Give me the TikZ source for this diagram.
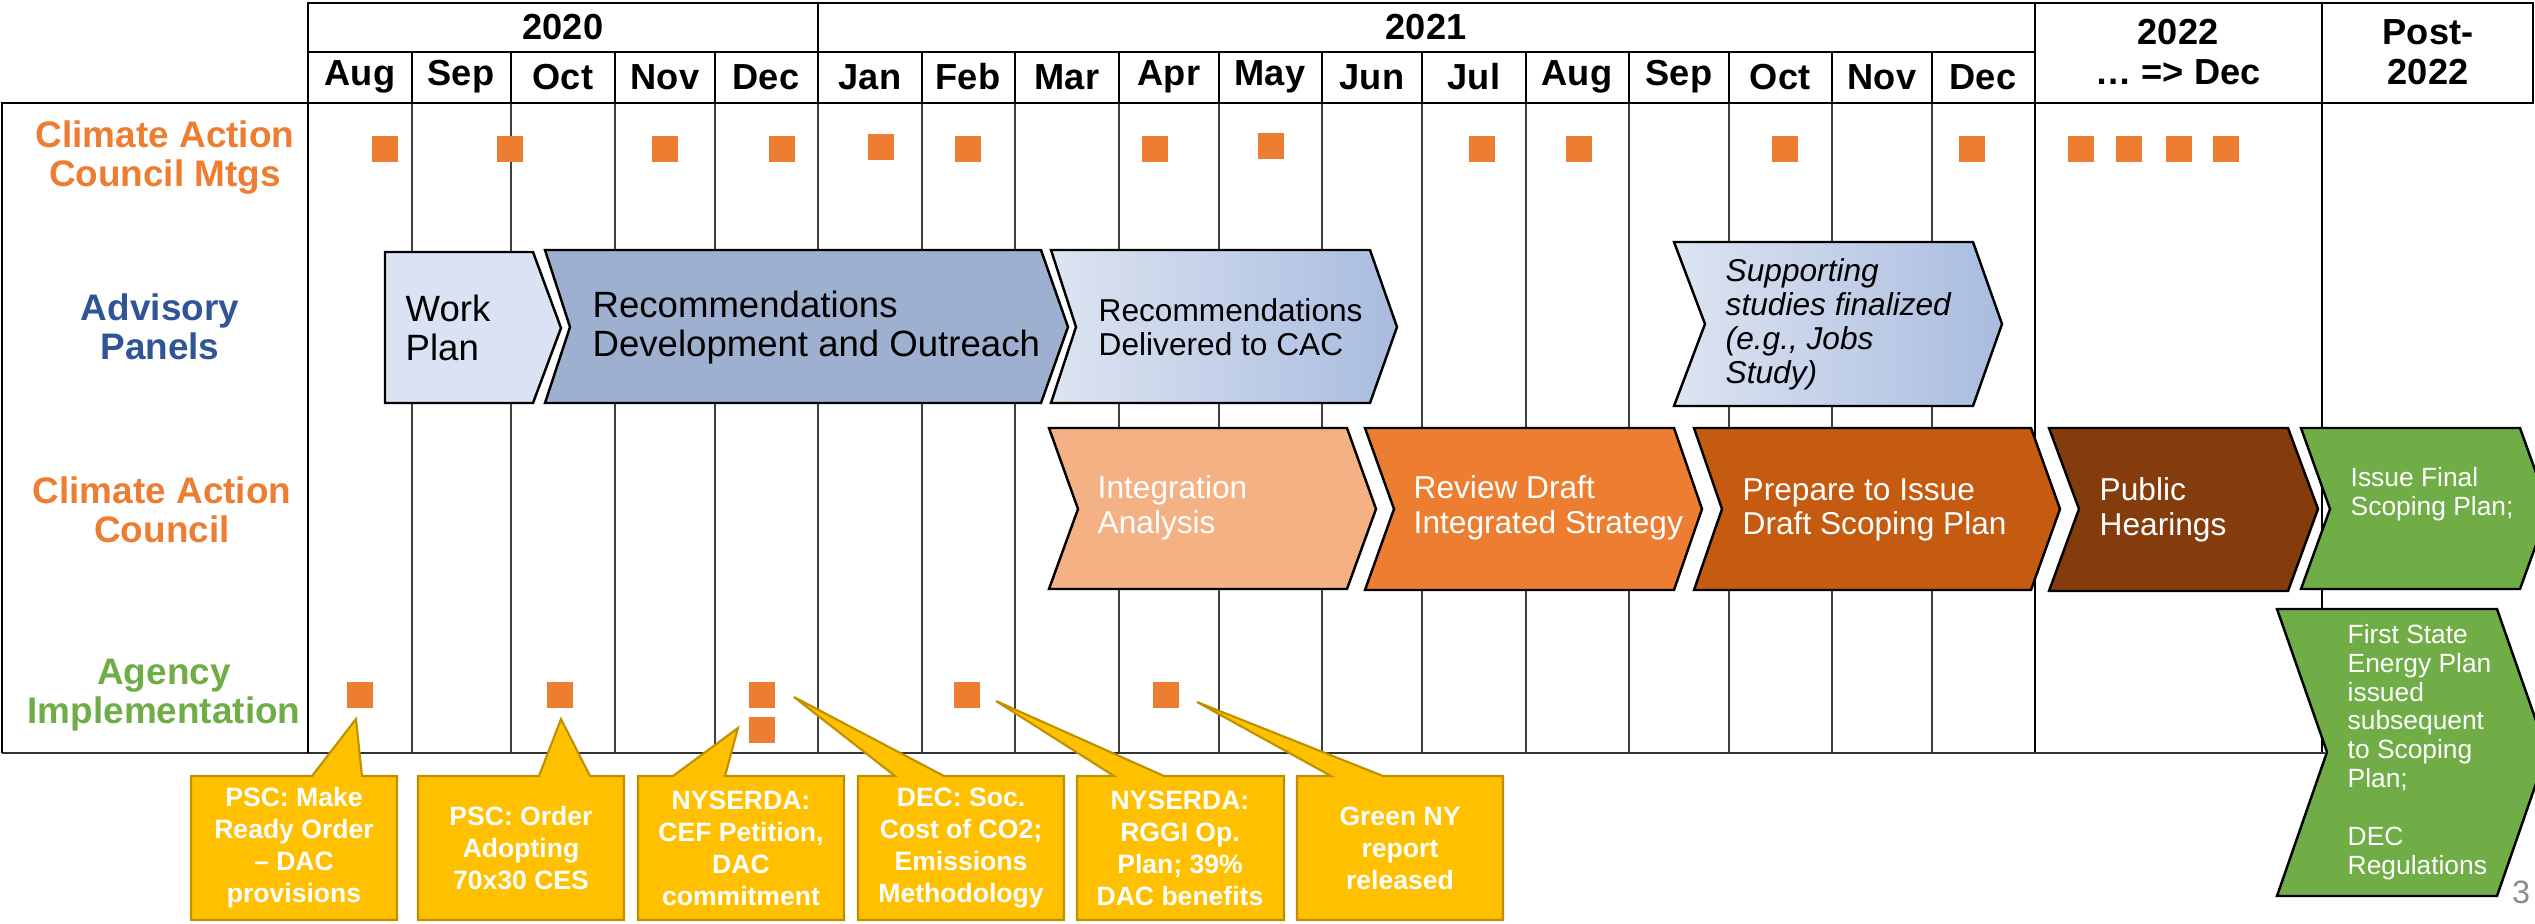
\documentclass[tikz,border=0pt]{standalone}
\usepackage{fontspec}
\setmainfont{Liberation Sans}
\definecolor{mtgorange}{HTML}{ED7D31}
\definecolor{panelblue}{HTML}{2F5597}
\definecolor{agencygreen}{HTML}{70AD47}
\definecolor{wpfill}{HTML}{DAE3F3}
\definecolor{rdfill}{HTML}{9DB0CF}
\definecolor{gradlo}{HTML}{DDE4F1}
\definecolor{gradhi}{HTML}{A9BCDF}
\definecolor{iafill}{HTML}{F4B183}
\definecolor{prfill}{HTML}{C55A11}
\definecolor{phfill}{HTML}{843C0C}
\definecolor{callfill}{HTML}{FFC000}
\definecolor{calledge}{HTML}{BF9000}

\begin{document}
\begin{tikzpicture}[x=0.01cm,y=-0.01cm,
  hdr/.style={font=\fontsize{10.3}{11.4}\selectfont\bfseries,inner sep=0,align=center},
  rowlbl/.style={font=\fontsize{10.5}{11.1}\selectfont\bfseries,inner sep=0,align=center},
  mtg/.style={fill=mtgorange,inner sep=0,minimum size=0.26cm},
  chev/.style={draw=black,line width=0.7pt},
  bigtxt/.style={anchor=west,align=left,inner sep=0,font=\fontsize{10.4}{11.1}\selectfont},
  chevtxt/.style={anchor=west,align=left,inner sep=0,font=\fontsize{9}{9.8}\selectfont},
  smalltxt/.style={anchor=west,align=left,inner sep=0,text=white,font=\fontsize{7.5}{8.2}\selectfont},
  callbox/.style={fill=callfill,draw=calledge,line width=0.6pt},
  calltxt/.style={align=center,inner sep=0,text=white,font=\fontsize{7.55}{9.1}\selectfont\bfseries}]
\useasboundingbox (0,0) rectangle (2535,924);
\clip (0,0) rectangle (2535,924);

\foreach \x in {412,511,615,715,818,922,1015,1119,1219,1322,1422,1526,1629,1729,1832,1932}
  \draw[line width=0.35pt,black!75] (\x,103) -- (\x,753);
\draw[line width=0.5pt] (2035,103) -- (2035,753);
\draw[line width=0.5pt] (2322,103) -- (2322,753);
\draw[line width=0.5pt,black!80] (2,753) -- (2325,753);
\draw[line width=0.6pt] (2,753) -- (2,103) -- (308,103);
\draw[line width=0.6pt] (308,103) -- (308,753);

\draw[line width=0.6pt] (308,3) rectangle (2533,103);
\draw[line width=0.6pt] (308,52) -- (2035,52);
\foreach \x in {818,2035,2322}
  \draw[line width=0.6pt] (\x,3) -- (\x,103);
\foreach \x in {412,511,615,715,922,1015,1119,1219,1322,1422,1526,1629,1729,1832,1932}
  \draw[line width=0.5pt] (\x,52) -- (\x,103);

\node[hdr] (y2020) at (563,27) {2020};
\node[hdr] (y2021) at (1426,27) {2021};
\node[hdr] (y2022) at (2178,52) {2022\\… => Dec};
\node[hdr] (post) at (2428,52) {Post-\\2022};
\node[hdr] (aug20) at (360,77) {Aug};
\node[hdr] (sep20) at (461,77) {Sep};
\node[hdr] (oct20) at (563,77) {Oct};
\node[hdr] (nov20) at (665,77) {Nov};
\node[hdr] (dec20) at (766,77) {Dec};
\node[hdr] (jan21) at (870,77) {Jan};
\node[hdr] (feb21) at (968,77) {Feb};
\node[hdr] (mar21) at (1067,77) {Mar};
\node[hdr] (apr21) at (1169,77) {Apr};
\node[hdr] (may21) at (1270,77) {May};
\node[hdr] (jun21) at (1372,77) {Jun};
\node[hdr] (jul21) at (1474,77) {Jul};
\node[hdr] (aug21) at (1577,77) {Aug};
\node[hdr] (sep21) at (1679,77) {Sep};
\node[hdr] (oct21) at (1780,77) {Oct};
\node[hdr] (nov21) at (1882,77) {Nov};
\node[hdr] (dec21) at (1983,77) {Dec};

\node[rowlbl,text=mtgorange] (lblmtg) at (165,158) {Climate Action\\Council Mtgs};
\node[rowlbl,text=panelblue] (lblpanel) at (160,327) {Advisory\\Panels};
\node[rowlbl,text=mtgorange] (lblcac) at (162,510) {Climate Action\\Council};
\node[rowlbl,text=agencygreen] (lblagency) at (164,695) {Agency\\Implementation};

\node[mtg] (cm1) at (385,149) {};
\node[mtg] (cm2) at (510,149) {};
\node[mtg] (cm3) at (665,149) {};
\node[mtg] (cm4) at (782,149) {};
\node[mtg] (cm5) at (881,147) {};
\node[mtg] (cm6) at (968,149) {};
\node[mtg] (cm7) at (1155,149) {};
\node[mtg] (cm8) at (1271,146) {};
\node[mtg] (cm9) at (1482,149) {};
\node[mtg] (cm10) at (1579,149) {};
\node[mtg] (cm11) at (1785,149) {};
\node[mtg] (cm12) at (1972,149) {};
\node[mtg] (cm13) at (2081,149) {};
\node[mtg] (cm14) at (2129,149) {};
\node[mtg] (cm15) at (2179,149) {};
\node[mtg] (cm16) at (2226,149) {};

\draw[chev,fill=wpfill] (385,252) -- (533,252) -- (561,328) -- (533,403) -- (385,403) -- cycle;
\draw[chev,fill=rdfill] (545,250) -- (1041,250) -- (1068,327) -- (1041,403) -- (545,403) -- (570,327) -- cycle;
\draw[chev,left color=gradlo,right color=gradhi] (1051,250) -- (1370,250) -- (1397,327) -- (1370,403) -- (1051,403) -- (1076,327) -- cycle;
\draw[chev,left color=gradlo,right color=gradhi] (1674,242) -- (1973,242) -- (2002,324) -- (1973,406) -- (1674,406) -- (1705,324) -- cycle;
\node[bigtxt] (workplan) at (405,328) {Work\\Plan};
\node[bigtxt] (recdev) at (592,328) {Recommendations\\Development and Outreach};
\node[chevtxt] (recdel) at (1098,327) {Recommendations\\Delivered to CAC};
\node[chevtxt,font=\fontsize{9}{9.7}\selectfont\itshape] (studies) at (1725,324) {Supporting\\studies finalized\\(e.g., Jobs\\Study)};

\draw[chev,fill=iafill] (1049,428) -- (1347,428) -- (1376,509) -- (1347,589) -- (1049,589) -- (1078,509) -- cycle;
\draw[chev,fill=mtgorange] (1365,428) -- (1674,428) -- (1702,509) -- (1674,590) -- (1365,590) -- (1394,509) -- cycle;
\draw[chev,fill=prfill] (1694,428) -- (2031,428) -- (2060,509) -- (2031,590) -- (1694,590) -- (1722,509) -- cycle;
\draw[chev,fill=phfill] (2049,428) -- (2288,428) -- (2318,509) -- (2288,591) -- (2049,591) -- (2079,509) -- cycle;
\draw[chev,fill=agencygreen] (2301,428) -- (2520,428) -- (2549,509) -- (2520,589) -- (2301,589) -- (2330,509) -- cycle;
\draw[chev,fill=agencygreen] (2277,609) -- (2497,609) -- (2547,752) -- (2497,896) -- (2277,896) -- (2327,752) -- cycle;
\node[chevtxt,text=white] (integ) at (1097,508) {Integration\\Analysis};
\node[chevtxt,text=white] (review) at (1413,508) {Review Draft\\Integrated Strategy};
\node[chevtxt,text=white] (prepare) at (1742,510) {Prepare to Issue\\Draft Scoping Plan};
\node[chevtxt,text=white] (hearings) at (2099,510) {Public\\Hearings};
\node[smalltxt] (issuefinal) at (2350,494) {Issue Final\\Scoping Plan;};
\node[smalltxt] (firstplan) at (2347,752) {First State\\Energy Plan\\issued\\subsequent\\to Scoping\\Plan;\\[8.2pt]DEC\\Regulations};

\node[mtg] (am1) at (360,695) {};
\node[mtg] (am2) at (560,695) {};
\node[mtg] (am3) at (762,695) {};
\node[mtg] (am4) at (762,730) {};
\node[mtg] (am5) at (967,695) {};
\node[mtg] (am6) at (1166,695) {};

\coordinate (tip1) at (356,719);
\coordinate (tip2) at (561,719);
\coordinate (tip3) at (738,728);
\coordinate (tip4) at (794,697);
\coordinate (tip5) at (996,701);
\coordinate (tip6) at (1197,702);
\draw[callbox] (191,776) -- (312,776) -- (tip1) -- (362,776) -- (397,776) -- (397,920) -- (191,920) -- cycle;
\draw[callbox] (418,776) -- (539,776) -- (tip2) -- (590,776) -- (624,776) -- (624,920) -- (418,920) -- cycle;
\draw[callbox] (638,776) -- (673,776) -- (tip3) -- (725,776) -- (844,776) -- (844,920) -- (638,920) -- cycle;
\draw[callbox] (858,776) -- (895,776) -- (tip4) -- (944,776) -- (1064,776) -- (1064,920) -- (858,920) -- cycle;
\draw[callbox] (1077,776) -- (1114,776) -- (tip5) -- (1164,776) -- (1284,776) -- (1284,920) -- (1077,920) -- cycle;
\draw[callbox] (1297,776) -- (1331,776) -- (tip6) -- (1383,776) -- (1503,776) -- (1503,920) -- (1297,920) -- cycle;
\node[calltxt] (makeready) at (294,848) {PSC: Make\\Ready Order\\– DAC\\provisions};
\node[calltxt] (ces) at (521,848) {PSC: Order\\Adopting\\70x30 CES};
\node[calltxt] (cef) at (741,848) {NYSERDA:\\CEF Petition,\\DAC\\commitment};
\node[calltxt] (socco) at (961,848) {DEC: Soc.\\Cost of CO2;\\Emissions\\Methodology};
\node[calltxt] (rggi) at (1180,848) {NYSERDA:\\RGGI Op.\\Plan; 39\%\\DAC benefits};
\node[calltxt] (greenny) at (1400,848) {Green NY\\report\\released};

\node[text=black!45,inner sep=0,font=\fontsize{9.2}{10}\selectfont] (pagenum) at (2521,892) {3};
\end{tikzpicture}
\end{document}
